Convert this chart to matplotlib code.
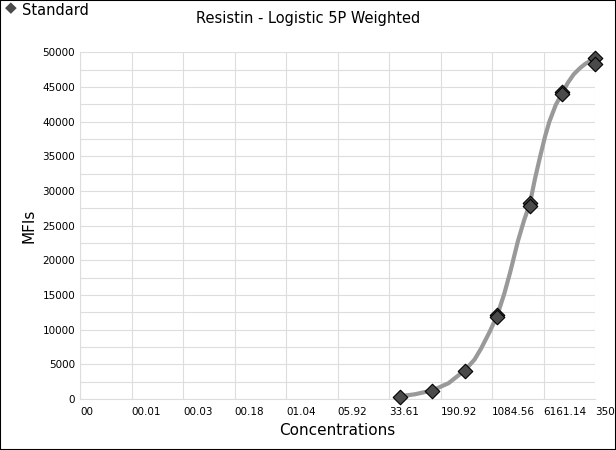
import matplotlib.pyplot as plt
import numpy as np

# standard points (concentration, MFI)
std_conc = [35000, 35000, 11667, 11667, 3889, 3889, 1296, 1296, 432, 144, 48]
std_mfi = [49100, 48300, 44300, 44000, 28300, 27900, 12100, 11900, 4030, 1150, 360]

# fitted curve
curve_conc = [45, 80, 144, 250, 432, 600, 750, 1000, 1296, 1650, 2000, 2600, 3200, 3889,
              4600, 5500, 6500, 7500, 9300, 11667, 14000, 17000, 21000, 25000, 30000, 35000]
curve_mfi = [380, 700, 1250, 2300, 4150, 5700, 7300, 9700, 12100, 15300, 18300, 22800,
             25800, 28200, 31700, 35000, 37900, 40000, 42400, 44200, 45600, 46800,
             47700, 48300, 48800, 49200]

tick_labels = ["00", "00.01", "00.03", "00.18", "01.04", "05.92", "33.61",
               "190.92", "1084.56", "6161.14", "3500"]

fig = plt.figure(figsize=(6.16, 4.5), dpi=100)
ax = fig.add_axes([0.13, 0.113, 0.836, 0.771])
fig.patches.append(plt.Rectangle((0, 0), 1, 1, transform=fig.transFigure,
                                 fill=False, edgecolor="black", linewidth=1.5))

ax.plot(curve_conc, curve_mfi, color="#999999", linewidth=3, solid_capstyle="round",
        solid_joinstyle="round", zorder=2)
ax.scatter(std_conc, std_mfi, marker="D", s=55, color="#4a4a4a", edgecolor="black",
           linewidth=0.8, zorder=3, clip_on=False)

ax.set_xscale("log")
ticks = [35000 / 5.68 ** k for k in range(10, -1, -1)]
ax.set_xlim(ticks[0], ticks[-1])
ax.set_xticks(ticks)
ax.set_xticklabels(tick_labels, fontsize=7.5, ha="left")
ax.minorticks_off()
ax.set_ylim(0, 50000)
ax.set_yticks(np.arange(0, 50001, 5000))
ax.set_yticks(np.arange(0, 50001, 2500), minor=True)
ax.tick_params(axis="y", labelsize=7.5, length=0, which="both")
ax.tick_params(axis="x", length=0, pad=6)
ax.grid(True, which="both", axis="y", color="#dddddd", linewidth=0.8)
ax.grid(True, which="major", axis="x", color="#dddddd", linewidth=0.8)
for s in ["top", "right"]:
    ax.spines[s].set_visible(False)
for s in ["left", "bottom"]:
    ax.spines[s].set_color("#dddddd")

ax.set_xlabel("Concentrations", fontsize=11)
ax.set_ylabel("MFIs", fontsize=11)
fig.text(0.5, 0.96, "Resistin - Logistic 5P Weighted", ha="center", va="center", fontsize=10.5)

fig.text(0.008, 0.982, "\u25c6", fontsize=11, color="#4a4a4a", va="center")
fig.text(0.035, 0.976, "Standard", fontsize=10.5, va="center")

fig.savefig("out.png", dpi=100)
